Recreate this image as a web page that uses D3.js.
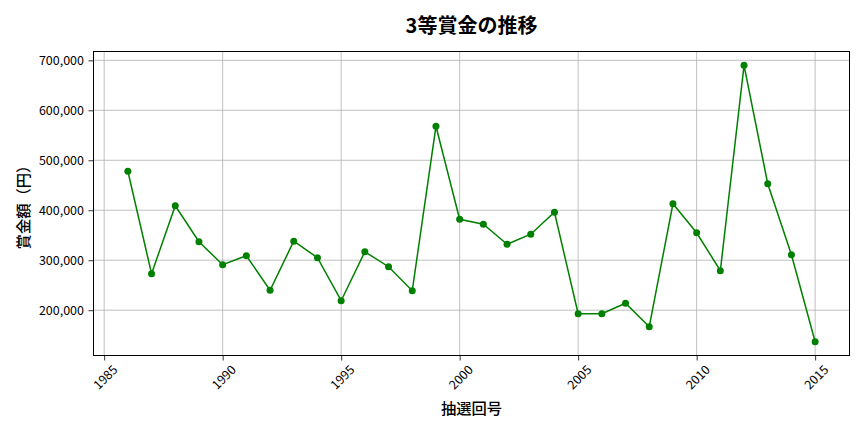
<!DOCTYPE html>
<html><head><meta charset="utf-8">
<script src="https://cdn.jsdelivr.net/npm/d3@7"></script>
<style>
body{margin:0;background:#fff;}
text{font-family:"Noto Sans CJK JP","Noto Sans",sans-serif;fill:#000;}
</style></head>
<body><svg id="c" width="864" height="432"></svg>
<script>
const years = [1986,1987,1988,1989,1990,1991,1992,1993,1994,1995,1996,1997,1998,1999,2000,2001,2002,2003,2004,2005,2006,2007,2008,2009,2010,2011,2012,2013,2014,2015];
const prizes = [478000,273000,409000,337000,291000,309000,240000,338000,305000,219000,317000,287000,239000,568000,382000,372000,332000,352000,396000,193000,193000,214000,167000,413000,355000,279000,690000,453000,311000,137000];
const xTicks = [1985,1990,1995,2000,2005,2010,2015];
const yTicks = [200000,300000,400000,500000,600000,700000];
const title = "3等賞金の推移";
const xLabel = "抽選回号";
const yLabel = "賞金額（円）";

const svg = d3.select("#c");
const L=93.5, R=849.5, T=51.5, B=355.5;
const xmin=d3.min(years), xmax=d3.max(years), xpad=(xmax-xmin)*0.05;
const ymin=d3.min(prizes), ymax=d3.max(prizes), ypad=(ymax-ymin)*0.05;
const x = d3.scaleLinear().domain([xmin-xpad,xmax+xpad]).range([L,R]);
const y = d3.scaleLinear().domain([ymin-ypad,ymax+ypad]).range([B,T]);

// grid
svg.append("g").selectAll("line").data(xTicks).join("line")
  .attr("x1",d=>x(d)).attr("x2",d=>x(d)).attr("y1",T).attr("y2",B)
  .attr("stroke","#b0b0b0").attr("stroke-width",0.8);
svg.append("g").selectAll("line").data(yTicks).join("line")
  .attr("y1",d=>y(d)).attr("y2",d=>y(d)).attr("x1",L).attr("x2",R)
  .attr("stroke","#b0b0b0").attr("stroke-width",0.8);

// axes
const fmt = d3.format(",");
const xa = svg.append("g").attr("transform",`translate(0,${B})`)
  .call(d3.axisBottom(x).tickValues(xTicks).tickFormat(d3.format("d")).tickSize(5).tickSizeOuter(0));
xa.select(".domain").remove();
xa.selectAll("text").attr("font-size",12.5).attr("text-anchor","middle")
  .attr("dy",null).attr("y",0)
  .attr("transform","translate(0,21) rotate(-45)")
  .attr("dominant-baseline","central");
const ya = svg.append("g").attr("transform",`translate(${L},0)`)
  .call(d3.axisLeft(y).tickValues(yTicks).tickFormat(fmt).tickSize(5).tickSizeOuter(0));
ya.select(".domain").remove();
ya.selectAll("text").attr("font-size",12.5).attr("x",-9.5);
svg.selectAll(".tick line").attr("stroke","#000").attr("stroke-width",0.8);
svg.selectAll(".tick text").style("font-family",'"Noto Sans CJK JP",sans-serif');

svg.append("rect").attr("x",L).attr("y",T).attr("width",R-L).attr("height",B-T)
  .attr("fill","none").attr("stroke","#000").attr("stroke-width",1);

// line
svg.append("path").datum(years.map((d,i)=>[d,prizes[i]]))
  .attr("d",d3.line().x(d=>x(d[0])).y(d=>y(d[1])))
  .attr("fill","none").attr("stroke","#008000").attr("stroke-width",1.5);
svg.append("g").selectAll("circle").data(years.map((d,i)=>[d,prizes[i]])).join("circle")
  .attr("cx",d=>x(d[0])).attr("cy",d=>y(d[1])).attr("r",3.5).attr("fill","#008000");

// labels
svg.append("text").attr("x",(L+R)/2).attr("y",24).attr("text-anchor","middle")
  .attr("dominant-baseline","central").attr("font-size",20).attr("font-weight",700).text(title);
svg.append("text").attr("x",(L+R)/2).attr("y",407).attr("text-anchor","middle")
  .attr("dominant-baseline","central").attr("font-size",15.3).attr("font-weight",500).text(xLabel);
svg.append("text").attr("transform",`translate(22,${(T+B)/2}) rotate(-90)`).attr("text-anchor","middle")
  .attr("dominant-baseline","central").attr("font-size",15.3).attr("font-weight",500).text(yLabel);
</script></body></html>
